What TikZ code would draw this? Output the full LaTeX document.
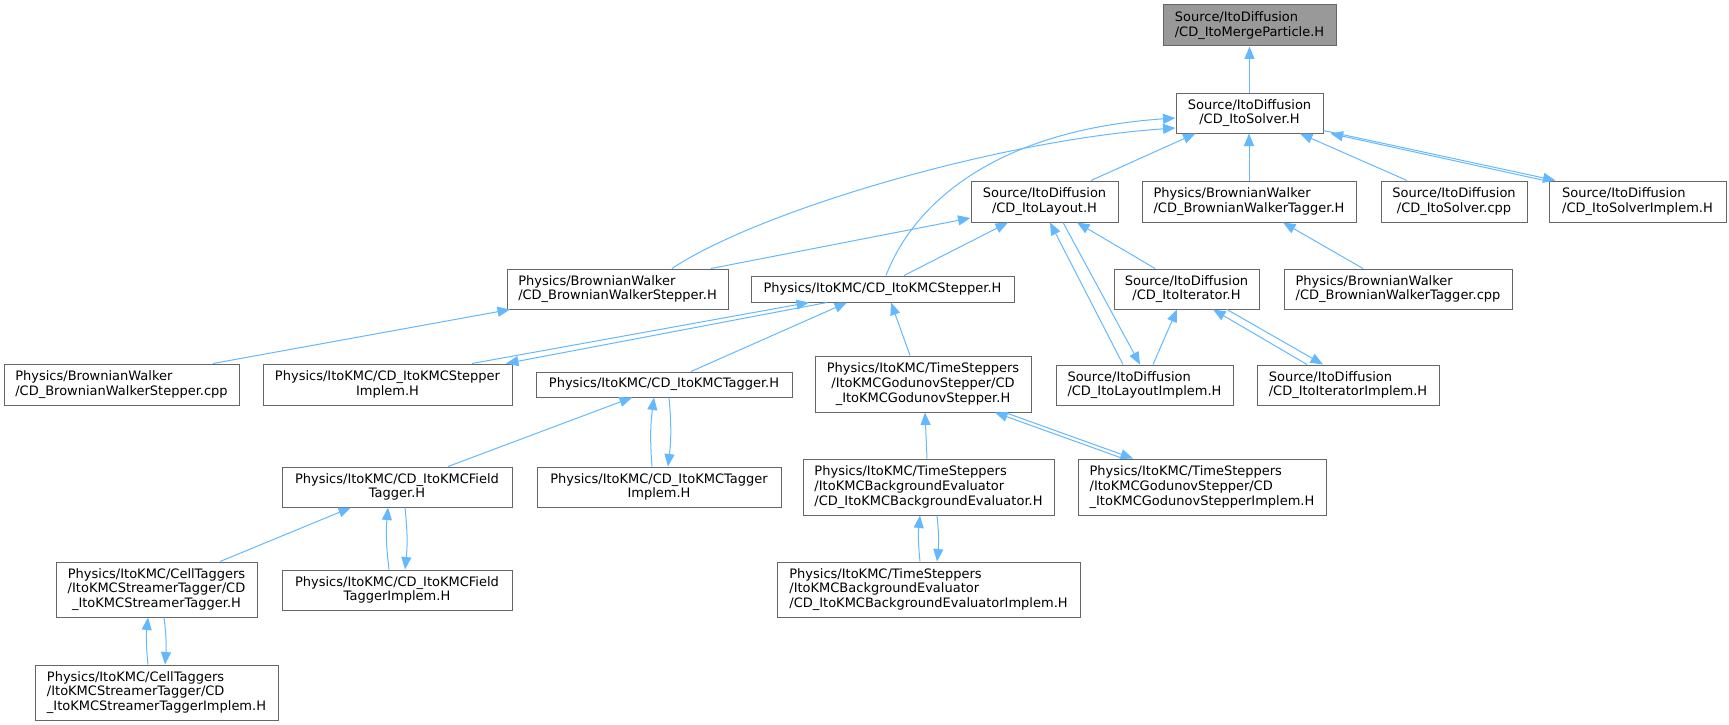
\documentclass[tikz,border=0pt]{standalone}
\usepackage{fontspec}
\setmainfont{DejaVu Sans}
\usetikzlibrary{arrows.meta}
\definecolor{edgeblue}{HTML}{63B8FF}
\definecolor{boxgray}{HTML}{666666}
\definecolor{rootgray}{HTML}{999999}
\tikzset{
  filebox/.style={draw=boxgray, line width=1pt, fill=white, inner sep=0pt, text=black,
    font=\fontsize{13}{14.7}\selectfont},
  dep/.style={draw=edgeblue, line width=1pt, -{Triangle[length=12.5pt,width=10pt]}},
}
\begin{document}
\begin{tikzpicture}[x=1pt,y=-1pt]
\useasboundingbox (0,0) rectangle (1729,725);
% nodes
\node[filebox, fill=rootgray, minimum width=173pt, minimum height=41pt, align=left] (root) at (1249.5,25.5) {Source/ItoDiffusion\\/CD\_ItoMergeParticle.H};
\node[filebox, minimum width=147pt, minimum height=40pt, align=center] (solver) at (1249.5,113) {Source/ItoDiffusion\\/CD\_ItoSolver.H};
\node[filebox, minimum width=147pt, minimum height=41pt, align=center] (layout) at (1044.5,201.5) {Source/ItoDiffusion\\/CD\_ItoLayout.H};
\node[filebox, minimum width=214pt, minimum height=41pt, align=left] (bwtagH) at (1249,201.5) {Physics/BrownianWalker\\/CD\_BrownianWalkerTagger.H};
\node[filebox, minimum width=146pt, minimum height=41pt, align=center] (solvercpp) at (1454,201.5) {Source/ItoDiffusion\\/CD\_ItoSolver.cpp};
\node[filebox, minimum width=177pt, minimum height=41pt, align=left] (solverimpl) at (1637.5,201.5) {Source/ItoDiffusion\\/CD\_ItoSolverImplem.H};
\node[filebox, minimum width=221pt, minimum height=40pt, align=left] (bwsH) at (617.5,289) {Physics/BrownianWalker\\/CD\_BrownianWalkerStepper.H};
\node[filebox, minimum width=263pt, minimum height=26pt, align=center] (kmcstep) at (882.5,289) {Physics/ItoKMC/CD\_ItoKMCStepper.H};
\node[filebox, minimum width=145pt, minimum height=40pt, align=center] (iterator) at (1186.5,289) {Source/ItoDiffusion\\/CD\_ItoIterator.H};
\node[filebox, minimum width=228pt, minimum height=40pt, align=left] (bwtagcpp) at (1398,289) {Physics/BrownianWalker\\/CD\_BrownianWalkerTagger.cpp};
\node[filebox, minimum width=235pt, minimum height=41pt, align=left] (bwscpp) at (121.5,384.5) {Physics/BrownianWalker\\/CD\_BrownianWalkerStepper.cpp};
\node[filebox, minimum width=249pt, minimum height=41pt, align=center] (kmcstepimpl) at (387.5,384.5) {Physics/ItoKMC/CD\_ItoKMCStepper\\Implem.H};
\node[filebox, minimum width=256pt, minimum height=25pt, align=center] (kmctagger) at (664,384.5) {Physics/ItoKMC/CD\_ItoKMCTagger.H};
\node[filebox, minimum width=216pt, minimum height=56pt, align=center] (godunov) at (923,384) {Physics/ItoKMC/TimeSteppers\\/ItoKMCGodunovStepper/CD\\\_ItoKMCGodunovStepper.H};
\node[filebox, minimum width=177pt, minimum height=40pt, align=left] (layoutimpl) at (1144.5,385) {Source/ItoDiffusion\\/CD\_ItoLayoutImplem.H};
\node[filebox, minimum width=182pt, minimum height=40pt, align=left] (iterimpl) at (1348,385) {Source/ItoDiffusion\\/CD\_ItoIteratorImplem.H};
\node[filebox, minimum width=230pt, minimum height=40pt, align=center] (fieldtagger) at (397,487) {Physics/ItoKMC/CD\_ItoKMCField\\Tagger.H};
\node[filebox, minimum width=244pt, minimum height=40pt, align=center] (taggerimpl) at (659,487) {Physics/ItoKMC/CD\_ItoKMCTagger\\Implem.H};
\node[filebox, minimum width=251pt, minimum height=56pt, align=left] (backeval) at (928.5,487) {Physics/ItoKMC/TimeSteppers\\/ItoKMCBackgroundEvaluator\\/CD\_ItoKMCBackgroundEvaluator.H};
\node[filebox, minimum width=248pt, minimum height=56pt, align=left] (godimpl) at (1202,487) {Physics/ItoKMC/TimeSteppers\\/ItoKMCGodunovStepper/CD\\\_ItoKMCGodunovStepperImplem.H};
\node[filebox, minimum width=201pt, minimum height=55pt, align=center] (streamer) at (156.5,589.5) {Physics/ItoKMC/CellTaggers\\/ItoKMCStreamerTagger/CD\\\_ItoKMCStreamerTagger.H};
\node[filebox, minimum width=230pt, minimum height=40pt, align=center] (fieldimpl) at (397,590) {Physics/ItoKMC/CD\_ItoKMCField\\TaggerImplem.H};
\node[filebox, minimum width=303pt, minimum height=55pt, align=left] (backevalimpl) at (928.5,589.5) {Physics/ItoKMC/TimeSteppers\\/ItoKMCBackgroundEvaluator\\/CD\_ItoKMCBackgroundEvaluatorImplem.H};
\node[filebox, minimum width=243pt, minimum height=55pt, align=left] (streamerimpl) at (156.5,692.5) {Physics/ItoKMC/CellTaggers\\/ItoKMCStreamerTagger/CD\\\_ItoKMCStreamerTaggerImplem.H};
% edges
\draw[dep] (solver.north) -- (root.south);
\draw[dep] ([xshift=46.5pt]layout.north) -- ([xshift=-54pt]solver.south);
\draw[dep] (bwtagH.north) -- ([xshift=-0.5pt]solver.south);
\draw[dep] ([xshift=-47pt]solvercpp.north) -- ([xshift=50.5pt]solver.south);
\draw[dep] ([yshift=3pt]solver.south east) -- ([xshift=-82pt]solverimpl.north);
\draw[dep] ([xshift=-88.5pt,yshift=-1pt]solverimpl.north) -- ([xshift=7pt]solver.south east);
\draw[dep] ([xshift=54.5pt]bwsH.north) .. controls (760,210) and (1000,140) .. ([yshift=-15pt]solver.west);
\draw[dep] ([xshift=3.5pt]kmcstep.north) .. controls (915,200) and (1000,130) .. ([yshift=-5pt]solver.west);
\draw[dep] ([xshift=93.5pt]bwsH.north) -- ([yshift=-16.5pt]layout.west);
\draw[dep] ([xshift=21.5pt]kmcstep.north) -- ([xshift=-36.5pt]layout.south);
\draw[dep] ([xshift=-21.5pt]layoutimpl.north) -- ([xshift=5.5pt]layout.south);
\draw[dep] ([xshift=18.5pt]layout.south) -- ([xshift=-4.5pt]layoutimpl.north);
\draw[dep] ([xshift=-31.5pt]iterator.north) -- ([xshift=32.5pt]layout.south);
\draw[dep] ([xshift=-35pt]bwtagcpp.north) -- ([xshift=34pt]bwtagH.south);
\draw[dep] ([xshift=8.5pt]layoutimpl.north) -- ([xshift=-9.5pt]iterator.south);
\draw[dep] ([xshift=-41pt]iterimpl.north) -- ([xshift=26.5pt]iterator.south);
\draw[dep] ([xshift=40.5pt]iterator.south) -- ([xshift=-25pt]iterimpl.north);
\draw[dep] ([xshift=91.5pt]bwscpp.north) -- ([xshift=-107.5pt]bwsH.south);
\draw[dep] ([xshift=84.5pt]kmcstepimpl.north) -- ([xshift=-73.5pt]kmcstep.south);
\draw[dep] ([xshift=-55.5pt]kmcstep.south) -- ([xshift=118.5pt]kmcstepimpl.north);
\draw[dep] ([xshift=27pt]kmctagger.north) -- ([xshift=-35.5pt]kmcstep.south);
\draw[dep] ([xshift=-13pt]godunov.north) -- ([xshift=8.5pt]kmcstep.south);
\draw[dep] ([xshift=51pt]fieldtagger.north) -- ([xshift=-32pt]kmctagger.south);
\draw[dep] ([xshift=-7pt]taggerimpl.north) to[bend left=6] ([xshift=-10pt]kmctagger.south);
\draw[dep] ([xshift=5pt]kmctagger.south) to[bend left=6] ([xshift=9pt]taggerimpl.north);
\draw[dep] ([xshift=63.5pt]streamer.north) -- ([xshift=-46pt]fieldtagger.south);
\draw[dep] ([xshift=-8pt]fieldimpl.north) to[bend left=6] ([xshift=-9pt]fieldtagger.south);
\draw[dep] ([xshift=8pt]fieldtagger.south) to[bend left=6] ([xshift=8pt]fieldimpl.north);
\draw[dep] ([xshift=-8.5pt]streamerimpl.north) to[bend left=6] ([xshift=-8.5pt]streamer.south);
\draw[dep] ([xshift=7.5pt]streamer.south) to[bend left=6] ([xshift=8.5pt]streamerimpl.north);
\draw[dep] ([xshift=-1.5pt]backeval.north) -- ([xshift=2pt]godunov.south);
\draw[dep] ([xshift=-79pt]godimpl.north) -- ([xshift=72pt]godunov.south);
\draw[dep] ([xshift=82pt]godunov.south) -- ([xshift=-69pt]godimpl.north);
\draw[dep] ([xshift=-8.5pt]backevalimpl.north) to[bend left=6] ([xshift=-8.5pt]backeval.south);
\draw[dep] ([xshift=8.5pt]backeval.south) to[bend left=6] ([xshift=8.5pt]backevalimpl.north);
\end{tikzpicture}
\end{document}
